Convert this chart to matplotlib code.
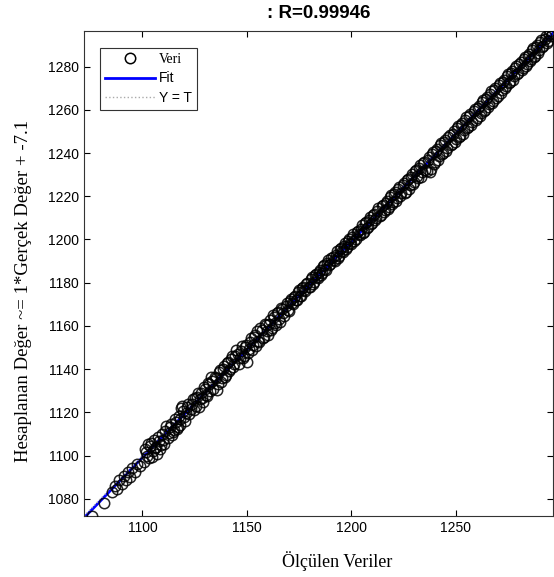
import numpy as np
import matplotlib.pyplot as plt

# olculen (x) ve hesaplanan (y) degerler
olculen_alt = [1076.0, 1081.5, 1085.5, 1087.0, 1088.0, 1089.0, 1090.0, 1091.0,
               1092.0, 1093.0, 1094.0, 1095.0, 1096.5, 1097.5, 1099.0, 1100.5]
hesap_alt = [1072.0, 1078.0, 1083.0, 1086.0, 1084.5, 1088.5, 1087.0, 1090.5,
             1088.5, 1092.5, 1090.0, 1094.0, 1092.5, 1096.0, 1095.0, 1097.0]

olculen_orta = [1101.5, 1102.5, 1103.0, 1104.0, 1105.0, 1106.0, 1107.0, 1108.0, 1109.0, 1110.0,
                1111.0, 1112.0, 1113.0, 1114.0, 1115.0, 1116.0, 1117.0, 1118.0, 1118.5, 1119.5,
                1120.5, 1121.5, 1122.5, 1123.5, 1124.5, 1125.0, 1126.0, 1127.0, 1128.0, 1129.0,
                1130.0, 1131.0, 1132.0, 1133.0, 1134.0, 1135.0, 1135.5, 1136.5, 1137.5, 1138.5,
                1139.5, 1140.5, 1141.5, 1142.5, 1143.5, 1144.5, 1145.0, 1146.0, 1147.0, 1148.0,
                1149.0, 1150.0, 1150.5, 1151.5, 1152.5, 1153.5, 1154.5, 1155.0, 1156.0, 1157.0,
                1158.0, 1159.0, 1160.0, 1161.0, 1162.0, 1163.0, 1164.0, 1165.0, 1166.0, 1167.0,
                1168.0, 1169.0, 1170.0]
hesap_orta = [1101.5, 1105.5, 1099.0, 1106.0, 1102.0, 1103.5, 1100.5, 1106.5, 1105.0, 1107.0,
              1111.5, 1108.0, 1113.0, 1109.5, 1112.0, 1115.5, 1113.0, 1117.0, 1122.0, 1120.5,
              1116.0, 1122.5, 1119.0, 1124.0, 1121.0, 1126.5, 1127.0, 1122.5, 1129.0, 1125.0,
              1131.0, 1127.5, 1133.0, 1136.5, 1131.0, 1136.0, 1130.5, 1138.5, 1134.0, 1140.0,
              1136.5, 1143.0, 1139.0, 1144.5, 1141.0, 1146.0, 1149.0, 1142.5, 1148.5, 1145.0,
              1150.0, 1143.5, 1147.5, 1152.5, 1149.0, 1155.0, 1150.5, 1157.5, 1152.5, 1158.0,
              1155.0, 1160.5, 1156.0, 1162.5, 1159.0, 1164.0, 1160.5, 1166.5, 1162.0, 1168.0,
              1164.5, 1170.5, 1167.0]

olculen_ust = [1171, 1172, 1173, 1174, 1175, 1176, 1177, 1178, 1179, 1180,
               1181, 1182, 1183, 1184, 1185, 1186, 1187, 1188, 1189, 1190,
               1191, 1192, 1193, 1194, 1195, 1196, 1197, 1198, 1199, 1200,
               1201, 1202, 1203, 1204, 1205, 1206, 1207, 1208, 1209, 1210,
               1211, 1212, 1213, 1214, 1215, 1216, 1217, 1218, 1219, 1220,
               1221, 1222, 1223, 1224, 1225, 1226, 1227, 1228, 1229, 1230,
               1231, 1232, 1233, 1234, 1235, 1236, 1237, 1238, 1239, 1240,
               1241, 1242, 1243, 1244, 1245, 1246, 1247, 1248, 1249, 1250,
               1251, 1252, 1253, 1254, 1255, 1256, 1257, 1258, 1259, 1260,
               1261, 1262, 1263, 1264, 1265, 1266, 1267, 1268, 1269, 1270,
               1271, 1272, 1273, 1274, 1275, 1276, 1277, 1278, 1279, 1280,
               1281, 1282, 1283, 1284, 1285, 1286, 1287, 1288, 1289, 1290,
               1291, 1292, 1293, 1294, 1295, 1296]
hesap_ust = [1172.5, 1170.0, 1174.0, 1172.0, 1176.5, 1174.0, 1178.0, 1176.0, 1180.0, 1178.0,
             1182.5, 1180.5, 1184.0, 1182.0, 1186.0, 1184.5, 1188.0, 1186.0, 1190.5, 1188.5,
             1192.0, 1190.0, 1194.5, 1192.5, 1196.0, 1194.0, 1198.5, 1196.5, 1200.0, 1198.0,
             1202.5, 1200.0, 1204.0, 1202.0, 1206.5, 1203.5, 1208.0, 1206.0, 1210.5, 1207.5,
             1212.0, 1210.0, 1214.5, 1211.5, 1216.0, 1213.5, 1218.0, 1215.0, 1220.5, 1217.5,
             1222.0, 1219.0, 1224.5, 1221.5, 1226.0, 1222.0, 1228.0, 1225.0, 1230.5, 1226.5,
             1232.0, 1228.5, 1234.5, 1231.0, 1236.0, 1231.5, 1238.0, 1232.5, 1240.5, 1236.0,
             1242.0, 1238.5, 1244.5, 1240.0, 1246.0, 1242.5, 1248.5, 1244.0, 1250.0, 1246.5,
             1252.5, 1248.0, 1254.0, 1250.5, 1256.5, 1252.0, 1258.0, 1254.5, 1260.5, 1256.0,
             1262.0, 1258.5, 1264.5, 1260.0, 1266.0, 1262.5, 1268.5, 1264.0, 1270.0, 1266.5,
             1272.5, 1269.0, 1274.0, 1271.0, 1276.5, 1273.0, 1278.0, 1275.5, 1280.5, 1277.0,
             1282.0, 1279.5, 1284.5, 1281.0, 1286.0, 1283.5, 1288.5, 1285.0, 1290.0, 1287.5,
             1292.5, 1289.5, 1294.0, 1292.0, 1296.5, 1295.0]

# ikinci grup noktalar (bandi dolduranlar)
olculen_ek = [1101.0, 1102.0, 1103.5, 1104.5, 1105.5, 1106.5, 1107.5, 1108.5, 1109.5, 1110.5,
              1111.5, 1112.5, 1113.5, 1114.5, 1115.5, 1116.5, 1117.5, 1118.0, 1119.0, 1120.0,
              1121.0, 1122.0, 1123.0, 1124.0, 1125.5, 1126.5, 1127.5, 1128.5, 1129.5, 1130.5,
              1131.5, 1132.5, 1133.5, 1134.5, 1136.0, 1137.0, 1138.0, 1139.0, 1140.0, 1141.0,
              1142.0, 1143.0, 1144.0, 1145.5, 1146.5, 1147.5, 1148.5, 1149.5, 1150.8, 1152.0,
              1153.0, 1154.0, 1155.5, 1156.5, 1157.5, 1158.5, 1159.5, 1160.5, 1161.5, 1162.5,
              1163.5, 1164.5, 1165.5, 1166.5, 1167.5, 1168.5, 1169.5, 1170.5,
              1171.5, 1172.5, 1173.5, 1174.5, 1175.5, 1176.5, 1177.5, 1178.5, 1179.5, 1180.5,
              1181.5, 1182.5, 1183.5, 1184.5, 1185.5, 1186.5, 1187.5, 1188.5, 1189.5, 1190.5,
              1191.5, 1192.5, 1193.5, 1194.5, 1195.5, 1196.5, 1197.5, 1198.5, 1199.5, 1200.5,
              1201.5, 1202.5, 1203.5, 1204.5, 1205.5, 1206.5, 1207.5, 1208.5, 1209.5, 1210.5,
              1211.5, 1212.5, 1213.5, 1214.5, 1215.5, 1216.5, 1217.5, 1218.5, 1219.5, 1220.5,
              1221.5, 1222.5, 1223.5, 1224.5, 1225.5, 1226.5, 1227.5, 1228.5, 1229.5,
              1230.5, 1231.5, 1232.5, 1233.5, 1234.5, 1235.5, 1236.5, 1237.5, 1238.5, 1239.5,
              1240.5, 1241.5, 1242.5, 1243.5, 1244.5, 1245.5, 1246.5, 1247.5, 1248.5, 1249.5,
              1250.5, 1251.5, 1252.5, 1253.5, 1254.5, 1255.5, 1256.5, 1257.5, 1258.5, 1259.5,
              1260.5, 1261.5, 1262.5, 1263.5, 1264.5, 1265.5, 1266.5, 1267.5, 1268.5, 1269.5,
              1270.5, 1271.5, 1272.5, 1273.5, 1274.5, 1275.5, 1276.5, 1277.5, 1278.5, 1279.5,
              1280.5, 1281.5, 1282.5, 1283.5, 1284.5, 1285.5, 1286.5, 1287.5, 1288.5, 1289.5,
              1290.5, 1291.5, 1292.5, 1293.5, 1294.5, 1295.5]
hesap_ek = [1103.0, 1100.0, 1104.5, 1099.5, 1107.0, 1104.0, 1108.5, 1103.0, 1110.0, 1105.5,
            1113.5, 1110.5, 1114.5, 1111.0, 1117.0, 1112.5, 1118.5, 1114.0, 1123.0, 1118.0,
            1119.5, 1124.0, 1121.5, 1126.0, 1123.0, 1129.0, 1126.0, 1126.5, 1131.5, 1128.0,
            1133.5, 1130.0, 1134.5, 1136.5, 1133.0, 1139.5, 1136.0, 1141.5, 1137.5, 1143.5,
            1140.0, 1146.0, 1142.5, 1147.0, 1145.0, 1150.5, 1146.0, 1151.0, 1149.5, 1154.5,
            1151.0, 1156.0, 1153.0, 1159.0, 1154.5, 1161.0, 1157.5, 1161.0, 1158.0, 1165.0,
            1161.5, 1166.0, 1163.0, 1168.5, 1166.0, 1169.0, 1167.5, 1171.5,
            1170.5, 1173.5, 1172.0, 1175.5, 1174.0, 1177.5, 1176.5, 1179.5, 1178.0, 1181.5,
            1179.5, 1183.5, 1182.5, 1185.0, 1183.5, 1187.5, 1186.5, 1189.0, 1188.0, 1191.5,
            1190.5, 1193.0, 1191.5, 1195.5, 1194.5, 1197.0, 1195.5, 1199.5, 1198.5, 1201.0,
            1199.5, 1203.5, 1202.5, 1205.0, 1203.0, 1207.5, 1205.5, 1209.0, 1207.0, 1211.5,
            1209.0, 1213.0, 1211.0, 1215.5, 1212.5, 1217.0, 1214.0, 1219.5, 1216.5, 1221.0,
            1218.0, 1223.5, 1220.0, 1225.0, 1221.5, 1227.5, 1223.5, 1229.0, 1225.5,
            1231.5, 1229.5, 1233.0, 1229.0, 1235.5, 1232.0, 1237.0, 1231.0, 1239.5, 1235.0,
            1241.0, 1237.0, 1243.5, 1239.5, 1245.0, 1241.0, 1247.5, 1243.5, 1249.0, 1245.0,
            1251.5, 1247.5, 1253.0, 1249.0, 1255.5, 1251.5, 1257.0, 1253.0, 1259.5, 1255.5,
            1261.0, 1257.0, 1263.5, 1259.5, 1265.0, 1261.5, 1267.5, 1263.0, 1269.0, 1265.5,
            1271.5, 1268.0, 1273.0, 1270.0, 1275.5, 1272.5, 1277.0, 1274.0, 1279.5, 1276.5,
            1281.0, 1278.5, 1283.5, 1280.5, 1285.0, 1282.5, 1287.5, 1284.5, 1289.0, 1286.5,
            1291.5, 1289.0, 1293.0, 1291.0, 1295.0, 1294.0]

baslik = ': R=0.99946'
x_etiket = 'Ölçülen Veriler'
y_etiket = 'Hesaplanan Değer ~= 1*Gerçek Değer + -7.1'
x_ticks = [1100, 1150, 1200, 1250]
y_ticks = [1080, 1100, 1120, 1140, 1160, 1180, 1200, 1220, 1240, 1260, 1280]

T = np.array(olculen_alt + olculen_orta + olculen_ust + olculen_ek, dtype=float)
Y = np.array(hesap_alt + hesap_orta + hesap_ust + hesap_ek, dtype=float)

lo = min(T.min(), Y.min())
hi = max(T.max(), Y.max())

plt.rcParams['font.family'] = ['Liberation Sans', 'DejaVu Sans']

fig = plt.figure(figsize=(5.54, 5.77), dpi=100)
ax = fig.add_axes([0.1516, 0.1057, 0.8464, 0.8406])

# fit cizgisi
p = np.polyfit(T, Y, 1)
xf = np.array([lo, hi])
ax.plot(xf, np.polyval(p, xf), '-', color='#0000ff', lw=2, label='Fit', zorder=2)
# Y = T
ax.plot([lo, hi], [lo, hi], ':', color='#aaaaaa', lw=1, label='Y = T', zorder=2)
# veri noktalari (ustte)
ax.plot(T, Y, 'o', mfc='none', mec='black', ms=7.5, mew=1.1, alpha=0.85,
        label='Veri', zorder=3)

ax.set_xlim(lo, hi)
ax.set_ylim(lo, hi)
ax.set_xticks(x_ticks)
ax.set_yticks(y_ticks)
ax.tick_params(direction='in', top=True, right=True, length=4, labelsize=10, width=0.8)
for s in ax.spines.values():
    s.set_linewidth(0.8)
    s.set_color('#333333')

ax.set_title(baslik, fontsize=13.5, fontweight='bold', pad=9)
ax.set_xlabel(x_etiket, family=['Liberation Serif'], fontsize=13)
ax.set_ylabel(y_etiket, family=['Liberation Serif'], fontsize=13.5)
ax.xaxis.set_label_coords(0.54, -0.072)
ax.yaxis.set_label_coords(-0.111, 0.464)

h, l = ax.get_legend_handles_labels()
sira = [2, 0, 1]
leg = ax.legend([h[i] for i in sira], [l[i] for i in sira],
                loc='upper left', bbox_to_anchor=(0.034, 0.965), fontsize=10,
                fancybox=False, framealpha=1, edgecolor='#333333', handlelength=3.6,
                handletextpad=0.3, borderpad=0.35, labelspacing=0.4, borderaxespad=0)
leg.get_frame().set_linewidth(0.8)
leg.get_texts()[0].set_family(['Liberation Serif'])
leg.legend_handles[0].set_alpha(1)

fig.savefig('out.png', dpi=100)
